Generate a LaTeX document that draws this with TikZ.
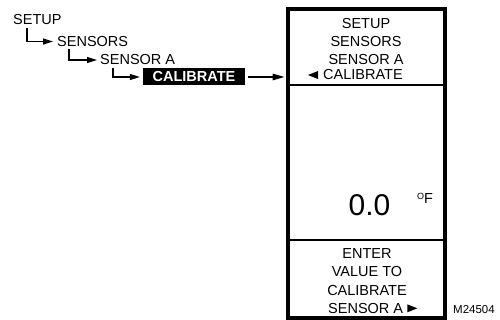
\documentclass[tikz,border=0pt]{standalone}
\usepackage{fontspec}
\setmainfont{Liberation Sans}
\usetikzlibrary{arrows.meta,positioning,calc}
\tikzset{
  menu/.style    ={anchor=base west,inner sep=0pt,font=\fontsize{14.5}{17}\selectfont},
  lcd/.style     ={anchor=base,inner sep=0pt,font=\fontsize{14.5}{17}\selectfont},
  hilite/.style  ={fill=black,text=white,inner sep=0pt,minimum width=102pt,minimum height=17pt,
                   font=\fontsize{14.5}{17}\selectfont\bfseries},
  reading/.style ={anchor=base west,inner sep=0pt,font=\fontsize{30}{30}\selectfont},
  tag/.style     ={anchor=base west,inner sep=0pt,font=\fontsize{11.5}{12}\selectfont},
  treearrow/.style={line width=1.4pt,-{Triangle[length=10pt,width=6pt]}},
  jumparrow/.style={line width=1.4pt,-{Triangle[length=12pt,width=6.5pt]}},
  screen/.style  ={draw,line width=4pt,inner sep=0pt,minimum width=157pt,minimum height=309pt},
  divider/.style ={line width=1.5pt},
}
\begin{document}
\begin{tikzpicture}[x=1pt,y=-1pt]
  \useasboundingbox (0,0) rectangle (500,320);
  % menu path
  \node[menu] (setup)   at (13,25)   {SETUP};
  \node[menu] (sensors) at (57,46.5) {SENSORS};
  \node[menu] (sensA)   at (100,65)  {SENSOR A};
  \node[hilite] (cal)   at (194,77)  {CALIBRATE};
  \draw[treearrow] ([xshift=14pt,yshift=-3pt]setup.south west) |- ([xshift=-4pt]sensors.west);
  \draw[treearrow] ([xshift=12pt,yshift=-2pt]sensors.south west) |- ([xshift=-3pt]sensA.west);
  \draw[treearrow] ([xshift=13pt,yshift=-3pt]sensA.south west) |- ([xshift=-3pt]cal.west);
  % display
  \node[screen] (screen) at (366.5,163.5) {};
  \draw[jumparrow] ([xshift=3pt]cal.east) -- ([xshift=-1.5pt]cal.east -| screen.west);
  \draw[divider] (288,85) -- (445,85);
  \draw[divider] (288,240) -- (445,240);
  \foreach \t/\y [count=\i] in {SETUP/28.3,SENSORS/46.7,SENSOR A/65}
    \node[lcd] (top\i) at (366,\y) {\t};
  \node[menu] (topcal) at (323,80) {CALIBRATE};
  \fill ([xshift=-5pt,yshift=4pt]topcal.west) -- ++(0,8) -- ++(-10,-4) -- cycle;
  \node[reading] (value) at (348.5,215) {0.0};
  \node[menu] (unit) at (417,204) {\raisebox{4.5pt}{\fontsize{9}{9}\selectfont O}F};
  \foreach \t/\y [count=\i] in {ENTER/258.5,VALUE TO/276.7,CALIBRATE/295}
    \node[lcd] (bot\i) at (367,\y) {\t};
  \node[menu] (botsens) at (328,313.3) {SENSOR A};
  \fill ([xshift=4pt,yshift=4pt]botsens.east) -- ++(0,8) -- ++(10,-4) -- cycle;
  \node[tag] (mnum) at (453,313) {M24504};
\end{tikzpicture}
\end{document}
